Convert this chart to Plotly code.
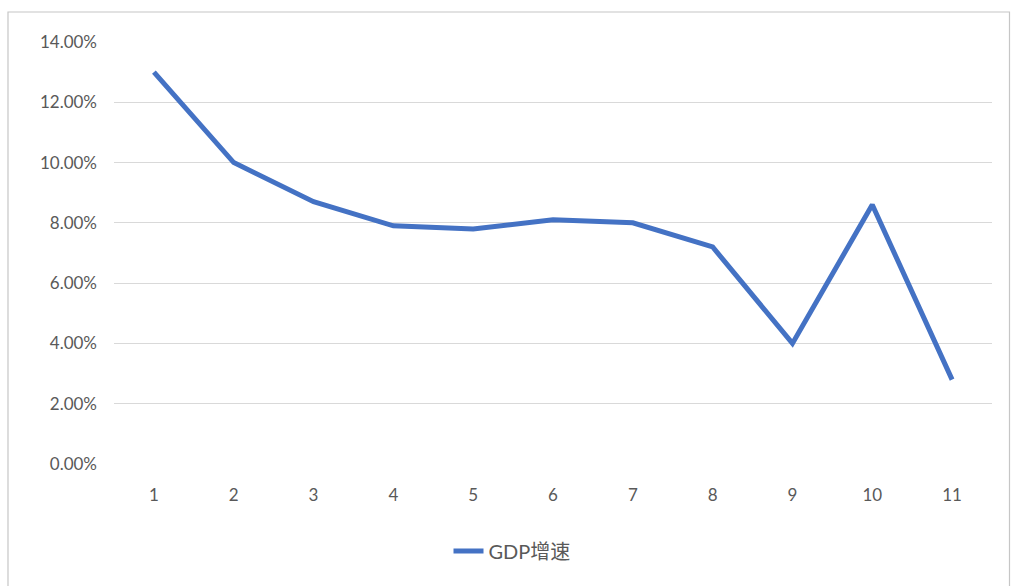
import plotly.graph_objects as go

categories = [1, 2, 3, 4, 5, 6, 7, 8, 9, 10, 11]
gdp_growth = [13.0, 10.0, 8.7, 7.9, 7.8, 8.1, 8.0, 7.2, 4.0, 8.6, 2.8]
y_ticks = [0, 2, 4, 6, 8, 10, 12, 14]
y_tick_labels = ["0.00%", "2.00%", "4.00%", "6.00%", "8.00%", "10.00%", "12.00%", "14.00%"]
series_name = "GDP增速"

W, H = 1011, 586
L, R, T, B = 114, 19, 42, 122
pw, ph = W - L - R, H - T - B

fig = go.Figure()
fig.add_trace(go.Scatter(
    x=categories, y=gdp_growth, mode="lines", name=series_name,
    line=dict(color="#4472C4", width=5),
))

fig.update_layout(
    width=W, height=H,
    margin=dict(l=L, r=R, t=T, b=B, pad=0),
    paper_bgcolor="white", plot_bgcolor="white",
    font=dict(family="Lato, 'Noto Sans CJK SC', sans-serif", size=17, color="#595959"),
    showlegend=True,
    legend=dict(orientation="h", x=(512 - L) / pw, xanchor="center",
                y=(T + ph - 551) / ph, yanchor="middle",
                font=dict(size=20, color="#595959")),
    xaxis=dict(range=[0.5, 11.5], tickvals=categories, ticktext=[str(c) for c in categories],
               showgrid=False, zeroline=False, showline=False, ticks="",
               ticklabelstandoff=19, fixedrange=True),
    yaxis=dict(range=[0, 14], tickvals=y_ticks, ticktext=y_tick_labels,
               showgrid=True, gridcolor="#d9d9d9", gridwidth=1,
               zeroline=False, showline=False, ticks="",
               ticklabelstandoff=16, fixedrange=True),
    shapes=[dict(type="rect", xref="paper", yref="paper",
                 x0=(8 - L) / pw, x1=(1009.5 - L) / pw,
                 y0=(T + ph - 600) / ph, y1=(T + ph - 12) / ph,
                 line=dict(color="#c6c6c6", width=1.2), fillcolor="rgba(0,0,0,0)",
                 layer="below")],
)

fig.write_html("out.html")
